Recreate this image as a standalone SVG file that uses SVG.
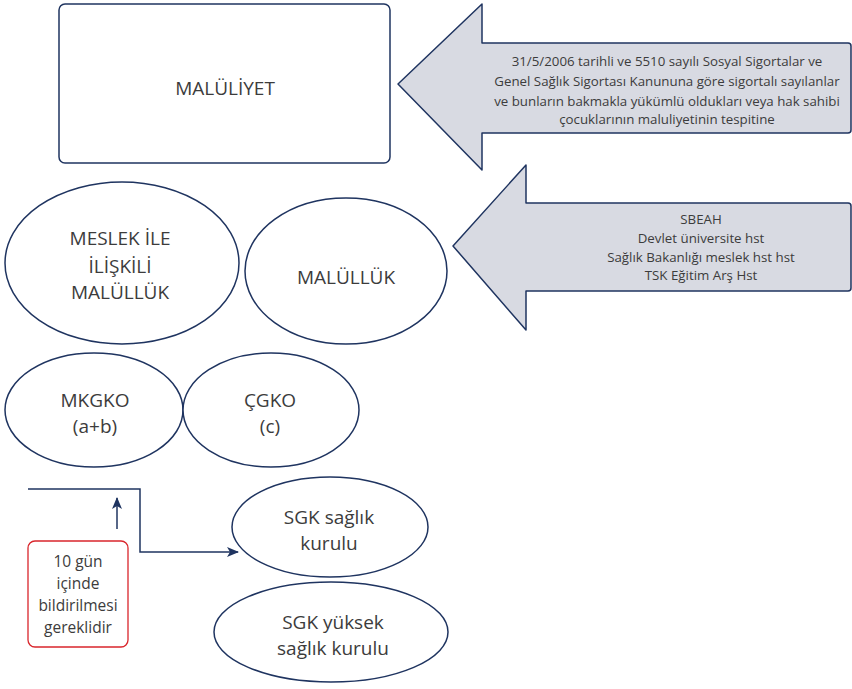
<svg xmlns="http://www.w3.org/2000/svg" width="852" height="689" viewBox="0 0 852 689">
  <defs>
    <style>
      .shape { fill: #ffffff; stroke: #1f3460; stroke-width: 1.5; }
      .callout { fill: #d8dae2; stroke: #1f3460; stroke-width: 1.5; stroke-linejoin: round; }
      .note { fill: #ffffff; stroke: #d9262c; stroke-width: 1.3; }
      .wire { fill: none; stroke: #1f3460; stroke-width: 1.5; }
      text { font-family: "Open Sans", "Noto Sans", "Liberation Sans", sans-serif; fill: #3c3c3c; text-anchor: middle; }
      .big { font-size: 19px; }
      .mid { font-size: 15.5px; }
      .small { font-size: 13.3px; }
    </style>
    <marker id="head" viewBox="0 0 12 12" refX="11" refY="6" markerWidth="12" markerHeight="12" markerUnits="userSpaceOnUse" orient="auto">
      <path d="M0,1 L12,6 L0,11 L3,6 Z" fill="#1f3460"/>
    </marker>
  </defs>

  <!-- top box -->
  <g id="maluliyet">
    <rect class="shape" x="59" y="4" width="331" height="159" rx="6"/>
    <text class="big" x="225" y="95">MALÜLİYET</text>
  </g>

  <!-- legal basis callout -->
  <g id="kanun">
    <path class="callout" d="M398,84 L482,4 L482,43 L848,43 Q851,43 851,46 L851,130 Q851,133 848,133 L482,133 L482,170 Z"/>
    <text class="small" x="667" y="66">31/5/2006 tarihli ve 5510 sayılı Sosyal Sigortalar ve</text>
    <text class="small" x="667" y="86">Genel Sağlık Sigortası Kanununa göre sigortalı sayılanlar</text>
    <text class="small" x="667" y="106">ve bunların bakmakla yükümlü oldukları veya hak sahibi</text>
    <text class="small" x="667" y="124">çocuklarının maluliyetinin tespitine</text>
  </g>

  <!-- hospitals callout -->
  <g id="hastaneler">
    <path class="callout" d="M453,246 L526,165 L526,203 L848,203 Q851,203 851,206 L851,288 Q851,291 848,291 L526,291 L526,330 Z"/>
    <text class="small" x="701" y="224">SBEAH</text>
    <text class="small" x="701" y="243">Devlet üniversite hst</text>
    <text class="small" x="701" y="262">Sağlık Bakanlığı meslek hst hst</text>
    <text class="small" x="701" y="280">TSK Eğitim Arş Hst</text>
  </g>

  <g id="meslek">
    <ellipse class="shape" cx="122" cy="263" rx="117" ry="81"/>
    <text class="big" x="120" y="245">MESLEK İLE</text>
    <text class="big" x="120" y="273">İLİŞKİLİ</text>
    <text class="big" x="120" y="299">MALÜLLÜK</text>
  </g>

  <g id="malulluk">
    <ellipse class="shape" cx="346" cy="271" rx="101" ry="73"/>
    <text class="big" x="346" y="284">MALÜLLÜK</text>
  </g>

  <g id="mkgko">
    <ellipse class="shape" cx="94" cy="410" rx="89" ry="57"/>
    <text class="big" x="95" y="407">MKGKO</text>
    <text class="big" x="95" y="433">(a+b)</text>
  </g>

  <g id="cgko">
    <ellipse class="shape" cx="271" cy="410" rx="88" ry="57"/>
    <text class="big" x="270" y="407">ÇGKO</text>
    <text class="big" x="270" y="433">(c)</text>
  </g>

  <g id="sgk-kurul">
    <ellipse class="shape" cx="330" cy="527" rx="98" ry="50"/>
    <text class="big" x="329" y="524">SGK sağlık</text>
    <text class="big" x="329" y="550">kurulu</text>
  </g>

  <g id="sgk-yuksek">
    <ellipse class="shape" cx="331" cy="632" rx="117" ry="50"/>
    <text class="big" x="333" y="629">SGK yüksek</text>
    <text class="big" x="333" y="655">sağlık kurulu</text>
  </g>

  <g id="not">
    <rect class="note" x="28" y="541" width="100" height="106" rx="7"/>
    <text class="mid" x="78" y="567">10 gün</text>
    <text class="mid" x="78" y="589">içinde</text>
    <text class="mid" x="78" y="611">bildirilmesi</text>
    <text class="mid" x="78" y="633">gereklidir</text>
  </g>

  <!-- connectors -->
  <g id="connectors">
    <path class="wire" d="M28,489 L140,489 L140,552 L238,552" marker-end="url(#head)"/>
    <path class="wire" d="M117,529 L117,498" marker-end="url(#head)"/>
  </g>
</svg>
